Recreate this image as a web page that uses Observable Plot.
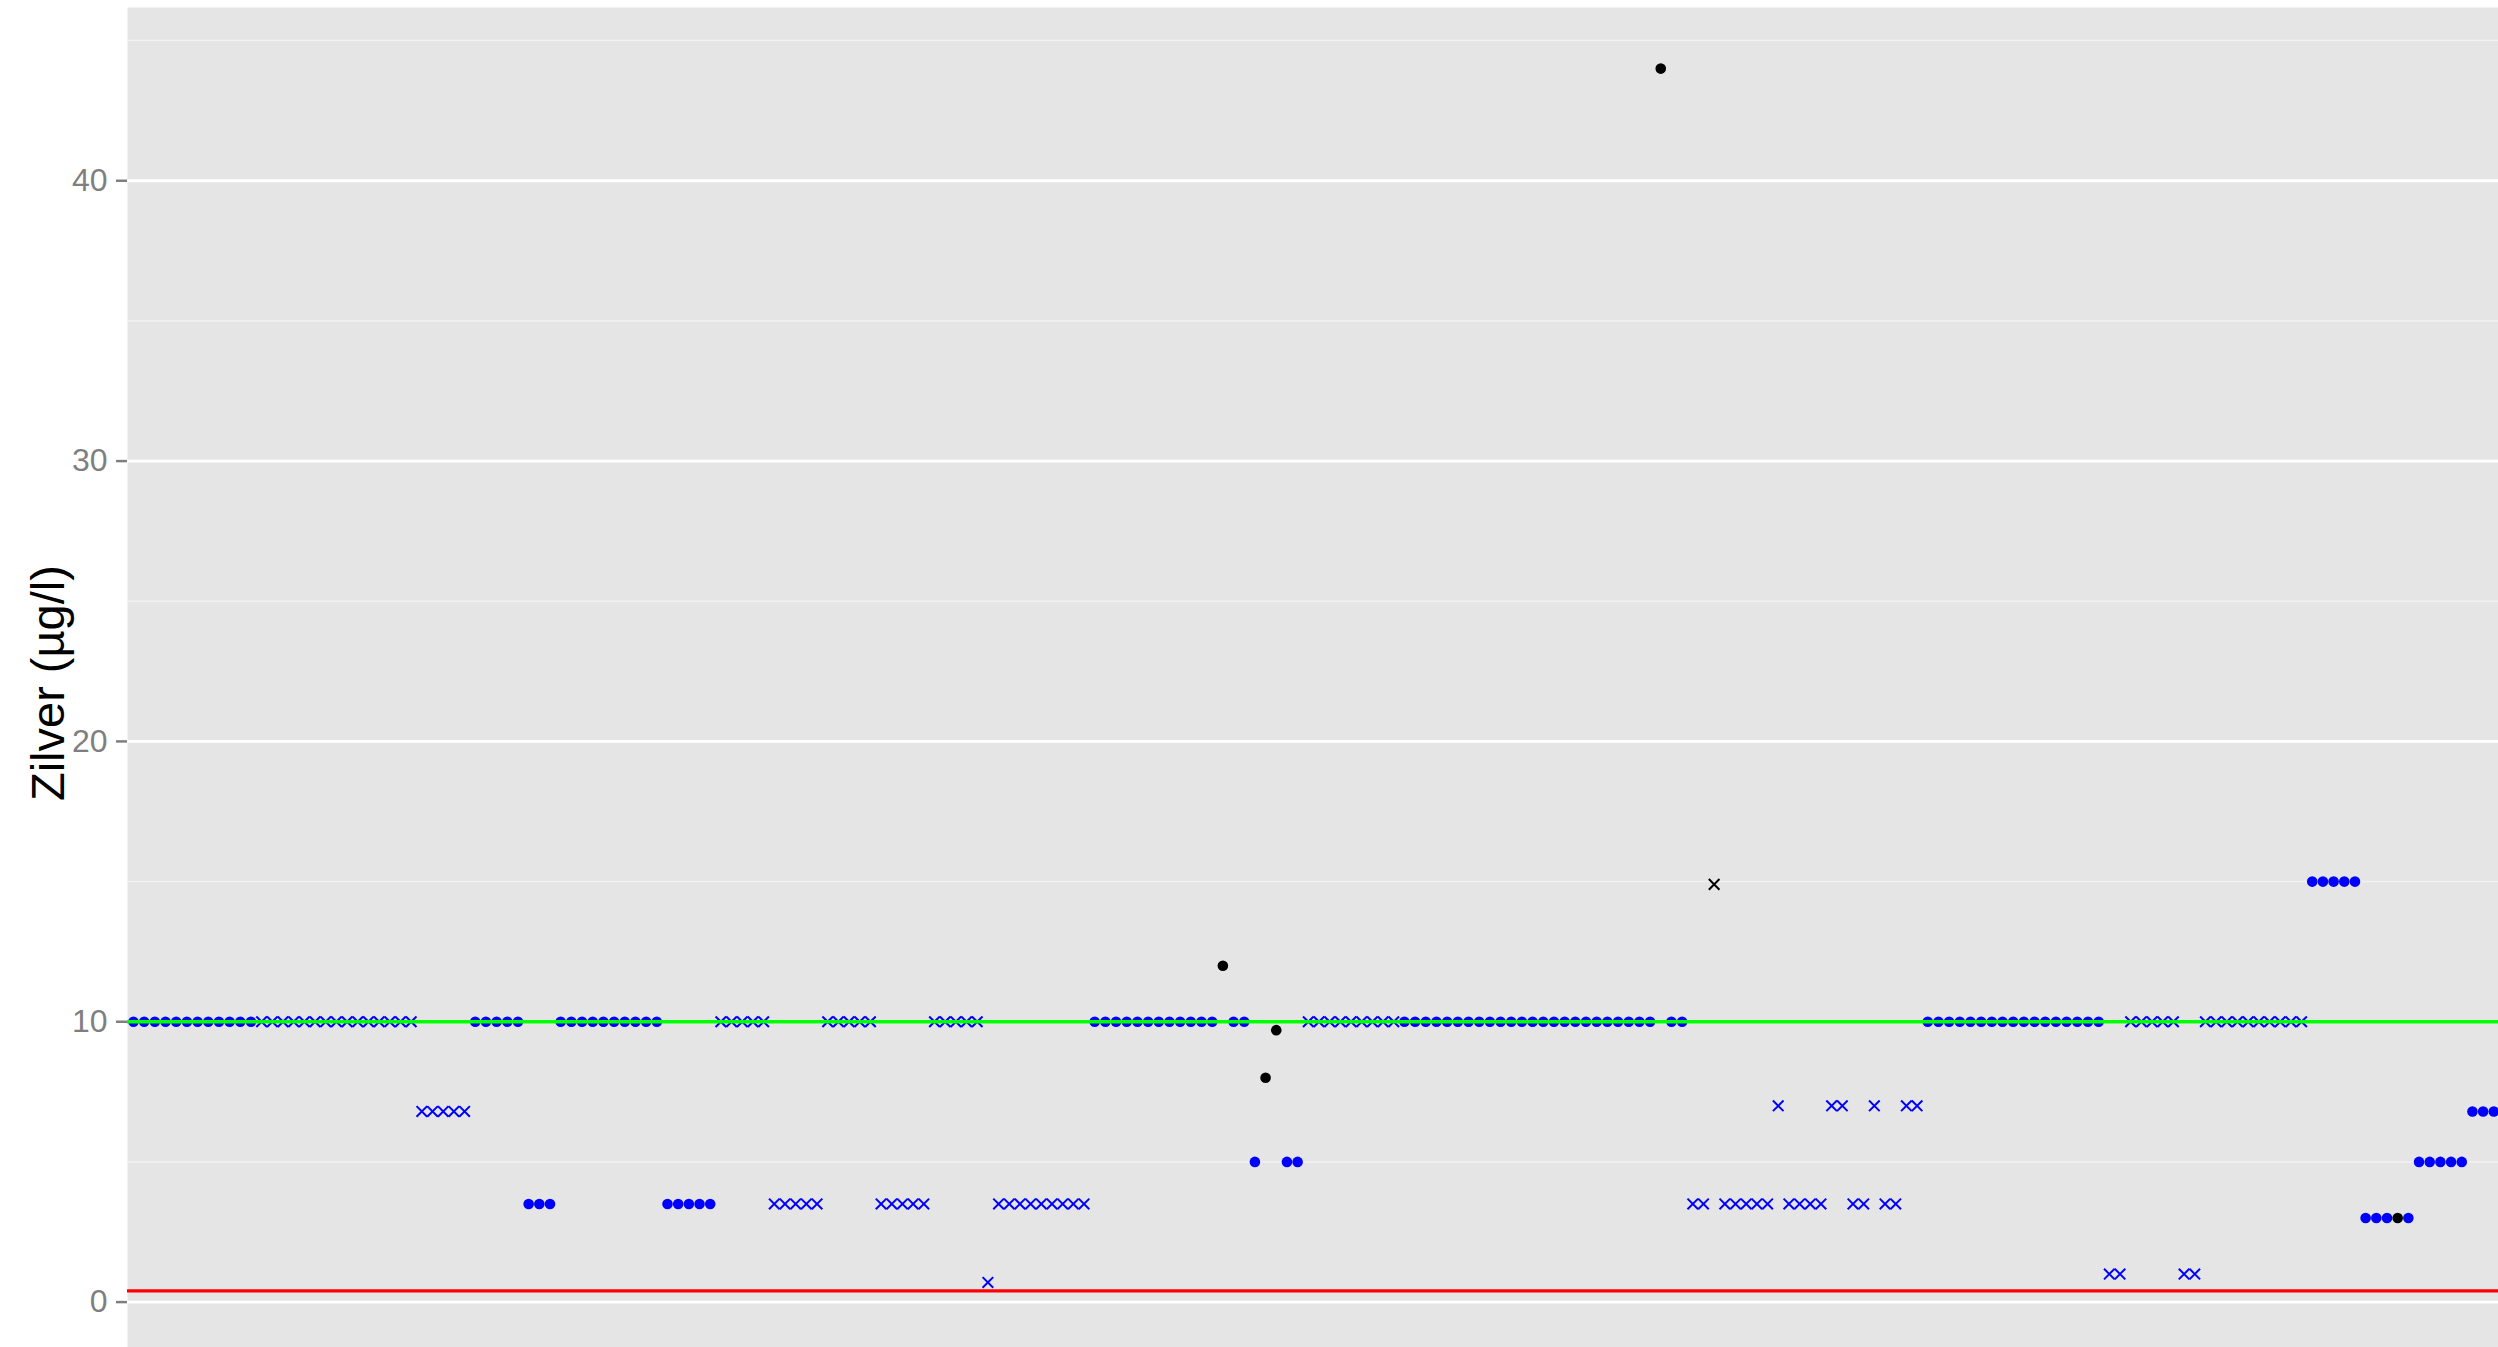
<!DOCTYPE html>
<html>
<head>
<meta charset="utf-8">
<script src="https://cdn.jsdelivr.net/npm/d3@7"></script>
<script src="https://cdn.jsdelivr.net/npm/@observablehq/plot@0.6"></script>
<style>
  html, body { margin: 0; padding: 0; overflow: hidden; background: #ffffff; }
  #chart svg { display: block; }
</style>
</head>
<body>
<div id="chart"></div>
<script>
// Silver concentration per sample (µg/l), sample index 0..221
const values = [
  10,10,10,10,10,10,10,10,10,10,10,10,
  10,10,10,10,10,10,10,10,10,10,10,10,10,10,10,
  6.8,6.8,6.8,6.8,6.8,
  10,10,10,10,10,
  3.5,3.5,3.5,
  10,10,10,10,10,10,10,10,10,10,
  3.5,3.5,3.5,3.5,3.5,
  10,10,10,10,10,
  3.5,3.5,3.5,3.5,3.5,
  10,10,10,10,10,
  3.5,3.5,3.5,3.5,3.5,
  10,10,10,10,10,
  0.7,
  3.5,3.5,3.5,3.5,3.5,3.5,3.5,3.5,3.5,
  10,10,10,10,10,10,10,10,10,10,10,10,
  12,
  10,10,
  5,
  8,
  9.7,
  5,5,
  10,10,10,10,10,10,10,10,10,
  10,10,10,10,10,10,10,10,10,10,10,10,10,10,10,10,10,10,10,10,10,10,10,10,
  44,
  10,10,
  3.5,3.5,
  14.9,
  3.5,3.5,3.5,3.5,3.5,
  7,
  3.5,3.5,3.5,3.5,
  7,7,
  3.5,3.5,
  7,
  3.5,3.5,
  7,7,
  10,10,10,10,10,10,10,10,10,10,10,10,10,10,10,10,10,
  1,1,
  10,10,10,10,10,
  1,1,
  10,10,10,10,10,10,10,10,10,10,
  15,15,15,15,15,
  3,3,3,3,3,
  5,5,5,5,5,
  6.8,6.8,6.8
];

// 1 = below reporting limit (drawn as a cross), 0 = measured value (dot)
const censored = [
  0,0,0,0,0,0,0,0,0,0,0,0,
  1,1,1,1,1,1,1,1,1,1,1,1,1,1,1,
  1,1,1,1,1,
  0,0,0,0,0,
  0,0,0,
  0,0,0,0,0,0,0,0,0,0,
  0,0,0,0,0,
  1,1,1,1,1,
  1,1,1,1,1,
  1,1,1,1,1,
  1,1,1,1,1,
  1,1,1,1,1,
  1,
  1,1,1,1,1,1,1,1,1,
  0,0,0,0,0,0,0,0,0,0,0,0,
  0,
  0,0,
  0,
  0,
  0,
  0,0,
  1,1,1,1,1,1,1,1,1,
  0,0,0,0,0,0,0,0,0,0,0,0,0,0,0,0,0,0,0,0,0,0,0,0,
  0,
  0,0,
  1,1,
  1,
  1,1,1,1,1,
  1,
  1,1,1,1,
  1,1,
  1,1,
  1,
  1,1,
  1,1,
  0,0,0,0,0,0,0,0,0,0,0,0,0,0,0,0,0,
  1,1,
  1,1,1,1,1,
  1,1,
  1,1,1,1,1,1,1,1,1,1,
  0,0,0,0,0,
  0,0,0,0,0,
  0,0,0,0,0,
  0,0,0
];

// samples drawn in black
const flaggedSamples = [102, 106, 107, 143, 148, 212];

const majorTicks = [0, 10, 20, 30, 40];
const minorTicks = [5, 15, 25, 35, 45];
const normLevel = 10;     // green line
const limitLevel = 0.4;   // red line
const yLabel = "Zilver (µg/l)";

const data = values.map((v, i) => ({
  sample: i,
  value: v,
  censored: censored[i] === 1,
  status: flaggedSamples.includes(i) ? "afwijkend" : "normaal"
}));

const chart = Plot.plot({
  width: 2498,
  height: 1347,
  marginLeft: 127,
  marginRight: 0,
  marginTop: 7,
  marginBottom: 0,
  style: { fontFamily: "'Liberation Sans', Arial, sans-serif", background: "#ffffff" },
  x: { domain: [-0.56, 221.44], axis: null },
  y: { domain: [-1.62, 46.18], axis: null },
  color: { domain: ["normaal", "afwijkend"], range: ["#0000FF", "#000000"] },
  marks: [
    Plot.frame({ fill: "#E5E5E5", stroke: "none" }),
    Plot.ruleY(minorTicks, { stroke: "#F2F2F2", strokeWidth: 1.5 }),
    Plot.ruleY(majorTicks, { stroke: "#FFFFFF", strokeWidth: 2.8 }),
    Plot.axisY({
      ticks: majorTicks,
      tickSize: 11,
      tickPadding: 9,
      fontSize: 32,
      color: "#7F7F7F",
      strokeWidth: 2.5,
      label: null
    }),
    Plot.dot(data.filter(d => !d.censored), {
      x: "sample", y: "value", fill: "status", r: 5.3, symbol: "circle", clip: true
    }),
    Plot.dot(data.filter(d => d.censored), {
      x: "sample", y: "value", stroke: "status", r: 4.9, symbol: "times", strokeWidth: 2, clip: true
    }),
    Plot.ruleY([normLevel], { stroke: "#00FF00", strokeWidth: 3.3 }),
    Plot.ruleY([limitLevel], { stroke: "#FF0000", strokeWidth: 3.3 }),
    Plot.text([yLabel], {
      text: d => d,
      frameAnchor: "left",
      dx: -64,
      dy: 5.6,
      rotate: -90,
      fontSize: 47,
      fill: "#000000",
      textAnchor: "middle",
      lineAnchor: "bottom"
    })
  ]
});

document.getElementById("chart").appendChild(chart);
</script>
</body>
</html>
